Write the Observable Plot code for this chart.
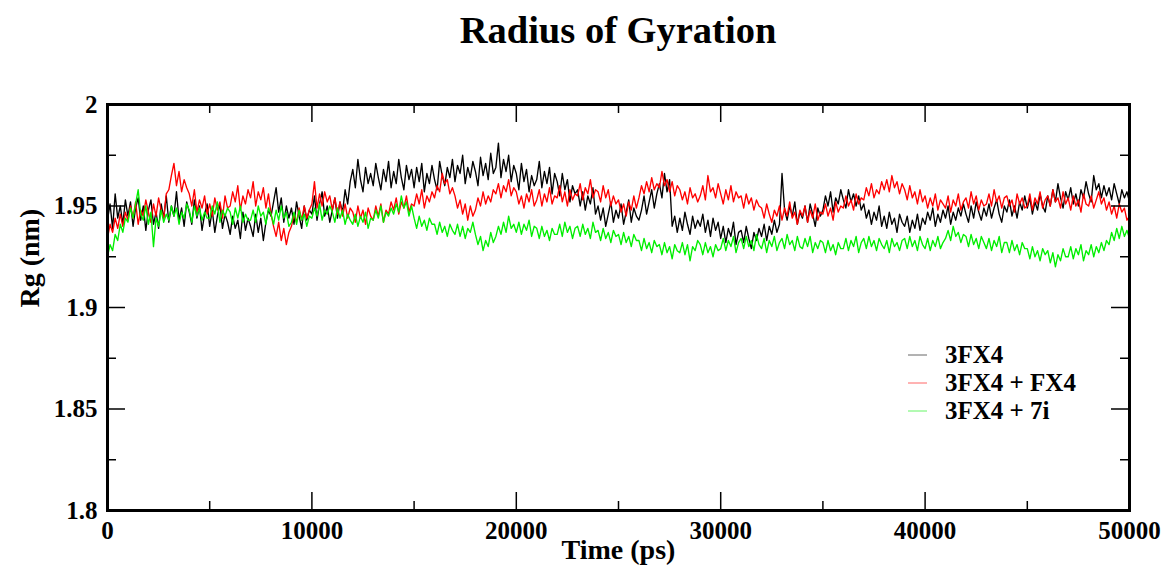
<!DOCTYPE html>
<html>
<head>
<meta charset="utf-8">
<script src="https://cdn.jsdelivr.net/npm/d3@7"></script>
<script src="https://cdn.jsdelivr.net/npm/@observablehq/plot@0.6"></script>
<style>
  html, body { margin: 0; padding: 0; background: white; }
  #wrap { position: relative; width: 1165px; height: 577px; font-family: "Liberation Serif", "Times New Roman", serif; font-weight: bold; color: black; }
  #title { position: absolute; left: 107px; width: 1022px; top: 11px; text-align: center; font-size: 38.5px; line-height: 38px; }
  #chart { position: absolute; left: 0; top: 70px; }
  #legend { position: absolute; left: 908px; top: 341px; font-size: 25px; }
  .row { display: flex; align-items: center; height: 28px; line-height: 28px; white-space: nowrap; }
  .row svg { margin-right: 18px; display: block; }
</style>
</head>
<body>
<div id="wrap">
  <div id="title"></div>
  <div id="chart"></div>
  <div id="legend"></div>
</div>
<script>
// ---- data (Rg in nm, sampled every 125 ps from 0 to 50000 ps; one row = 1000 ps) ----
const titleText = "Radius of Gyration";
const xLabel = "Time (ps)";
const yLabel = "Rg (nm)";
const timeStep = 125;
const seriesNames = ["3FX4", "3FX4 + FX4", "3FX4 + 7i"];
const seriesColors = ["#000000", "#ff0000", "#00ee00"];

const rg3FX4 = [
  1.943, 1.951, 1.939, 1.956, 1.944, 1.950, 1.941, 1.953,
  1.945, 1.952, 1.940, 1.949, 1.954, 1.943, 1.950, 1.938,
  1.948, 1.953, 1.941, 1.947, 1.939, 1.951, 1.944, 1.955,
  1.942, 1.950, 1.945, 1.957, 1.943, 1.949, 1.940, 1.952,
  1.947, 1.941, 1.953, 1.944, 1.950, 1.938, 1.946, 1.951,
  1.940, 1.948, 1.937, 1.945, 1.951, 1.939, 1.946, 1.942,
  1.936, 1.945, 1.939, 1.943, 1.934, 1.947, 1.938, 1.944,
  1.940, 1.935, 1.946, 1.937, 1.944, 1.933, 1.942, 1.948,
  1.945, 1.952, 1.959, 1.947, 1.954, 1.942, 1.950, 1.944,
  1.949, 1.941, 1.952, 1.945, 1.939, 1.950, 1.943, 1.948,
  1.946, 1.955, 1.943, 1.951, 1.957, 1.945, 1.950, 1.942,
  1.948, 1.954, 1.944, 1.952, 1.947, 1.958, 1.951, 1.962,
  1.968, 1.959, 1.973, 1.963, 1.957, 1.969, 1.961, 1.966,
  1.960, 1.971, 1.964, 1.958, 1.968, 1.962, 1.972, 1.959,
  1.967, 1.961, 1.973, 1.964, 1.958, 1.970, 1.963, 1.968,
  1.959, 1.969, 1.962, 1.971, 1.957, 1.966, 1.961, 1.970,
  1.963, 1.958, 1.972, 1.965, 1.960, 1.969, 1.964, 1.973,
  1.962, 1.970, 1.966, 1.975, 1.961, 1.969, 1.964, 1.972,
  1.967, 1.960, 1.974, 1.965, 1.971, 1.963, 1.976, 1.966,
  1.969, 1.981, 1.964, 1.973, 1.967, 1.975, 1.962, 1.970,
  1.966, 1.958, 1.971, 1.962, 1.968, 1.957, 1.965, 1.960,
  1.963, 1.972, 1.959, 1.967, 1.961, 1.969, 1.956, 1.966,
  1.962, 1.955, 1.966, 1.958, 1.963, 1.952, 1.960, 1.956,
  1.958, 1.950, 1.957, 1.948, 1.955, 1.951, 1.959, 1.946,
  1.950, 1.943, 1.949, 1.940, 1.946, 1.952, 1.942, 1.948,
  1.944, 1.951, 1.941, 1.947, 1.953, 1.942, 1.949, 1.945,
  1.943, 1.948, 1.955, 1.946, 1.952, 1.958, 1.949, 1.956,
  1.961, 1.954, 1.966, 1.957, 1.963, 1.940, 1.945, 1.937,
  1.944, 1.938, 1.947, 1.941, 1.936, 1.945, 1.939, 1.943,
  1.940, 1.946, 1.937, 1.943, 1.935, 1.944, 1.938, 1.942,
  1.934, 1.940, 1.932, 1.939, 1.935, 1.942, 1.931, 1.937,
  1.938, 1.932, 1.940, 1.934, 1.929, 1.937, 1.933, 1.939,
  1.935, 1.941, 1.933, 1.940, 1.936, 1.943, 1.937, 1.941,
  1.966, 1.948, 1.943, 1.950, 1.945, 1.952, 1.941, 1.947,
  1.944, 1.950, 1.942, 1.951, 1.946, 1.940, 1.949, 1.945,
  1.948, 1.955, 1.950, 1.957, 1.947, 1.954, 1.951, 1.958,
  1.953, 1.949, 1.958, 1.952, 1.956, 1.950, 1.955, 1.948,
  1.951, 1.944, 1.948, 1.941, 1.947, 1.943, 1.950, 1.940,
  1.945, 1.939, 1.947, 1.941, 1.944, 1.937, 1.946, 1.942,
  1.940, 1.945, 1.937, 1.943, 1.939, 1.946, 1.938, 1.944,
  1.941, 1.947, 1.943, 1.949, 1.940, 1.946, 1.942, 1.948,
  1.944, 1.950, 1.941, 1.947, 1.943, 1.949, 1.945, 1.951,
  1.946, 1.942, 1.950, 1.944, 1.952, 1.947, 1.943, 1.949,
  1.945, 1.951, 1.944, 1.949, 1.953, 1.946, 1.942, 1.950,
  1.947, 1.953, 1.945, 1.950, 1.944, 1.952, 1.948, 1.955,
  1.949, 1.954, 1.946, 1.952, 1.948, 1.956, 1.950, 1.947,
  1.955, 1.950, 1.958, 1.952, 1.961, 1.954, 1.949, 1.957,
  1.953, 1.959, 1.951, 1.956, 1.950, 1.958, 1.954, 1.962,
  1.956, 1.952, 1.965, 1.958, 1.961, 1.954, 1.960, 1.955,
  1.959, 1.953, 1.961, 1.956, 1.951, 1.958, 1.954, 1.957,
  1.952
];

const rg3FX4_FX4 = [
  1.934, 1.941, 1.937, 1.944, 1.939, 1.946, 1.940, 1.947,
  1.943, 1.950, 1.944, 1.952, 1.941, 1.948, 1.945, 1.953,
  1.947, 1.942, 1.951, 1.945, 1.954, 1.948, 1.944, 1.956,
  1.958, 1.965, 1.971, 1.960, 1.967, 1.957, 1.963, 1.959,
  1.956, 1.950, 1.958, 1.947, 1.953, 1.949, 1.955, 1.946,
  1.951, 1.945, 1.954, 1.948, 1.952, 1.944, 1.955, 1.949,
  1.950, 1.957, 1.952, 1.960, 1.948, 1.955, 1.951, 1.958,
  1.954, 1.962, 1.950, 1.957, 1.953, 1.959, 1.949, 1.956,
  1.946, 1.940, 1.935, 1.942, 1.933, 1.939, 1.931, 1.937,
  1.940, 1.946, 1.942, 1.949, 1.943, 1.950, 1.944, 1.948,
  1.951, 1.962, 1.949, 1.956, 1.950, 1.957, 1.952, 1.955,
  1.948, 1.954, 1.946, 1.952, 1.945, 1.951, 1.944, 1.949,
  1.947, 1.942, 1.950, 1.944, 1.948, 1.941, 1.949, 1.945,
  1.943, 1.950, 1.945, 1.951, 1.942, 1.948, 1.946, 1.952,
  1.948, 1.954, 1.946, 1.952, 1.949, 1.955, 1.947, 1.951,
  1.950, 1.956, 1.951, 1.958, 1.949, 1.955, 1.952, 1.957,
  1.954, 1.960, 1.957, 1.966, 1.961, 1.963, 1.956, 1.959,
  1.955, 1.949, 1.953, 1.946, 1.951, 1.943, 1.950, 1.945,
  1.948, 1.954, 1.950, 1.957, 1.951, 1.955, 1.952, 1.958,
  1.956, 1.961, 1.954, 1.960, 1.957, 1.963, 1.955, 1.959,
  1.957, 1.951, 1.955, 1.949, 1.956, 1.952, 1.958, 1.950,
  1.953, 1.958, 1.950, 1.956, 1.952, 1.959, 1.951, 1.955,
  1.954, 1.960, 1.952, 1.957, 1.950, 1.958, 1.953, 1.956,
  1.955, 1.961, 1.953, 1.959, 1.956, 1.963, 1.954, 1.958,
  1.957, 1.952, 1.960, 1.954, 1.958, 1.950, 1.955, 1.951,
  1.953, 1.947, 1.951, 1.945, 1.952, 1.948, 1.955, 1.949,
  1.954, 1.960, 1.956, 1.962, 1.957, 1.964, 1.958, 1.961,
  1.959, 1.967, 1.960, 1.963, 1.957, 1.962, 1.955, 1.960,
  1.958, 1.953, 1.957, 1.951, 1.959, 1.954, 1.956, 1.952,
  1.955, 1.960, 1.953, 1.965, 1.957, 1.959, 1.954, 1.961,
  1.956, 1.951, 1.958, 1.953, 1.960, 1.952, 1.957, 1.954,
  1.955, 1.949, 1.956, 1.951, 1.954, 1.948, 1.953, 1.950,
  1.949, 1.944, 1.951, 1.946, 1.942, 1.948, 1.945, 1.950,
  1.943, 1.949, 1.945, 1.952, 1.944, 1.947, 1.941, 1.948,
  1.945, 1.950, 1.942, 1.948, 1.944, 1.951, 1.943, 1.947,
  1.946, 1.951, 1.945, 1.949, 1.943, 1.952, 1.947, 1.950,
  1.949, 1.955, 1.950, 1.953, 1.948, 1.956, 1.951, 1.954,
  1.953, 1.959, 1.955, 1.961, 1.954, 1.958, 1.956, 1.962,
  1.958, 1.963, 1.957, 1.965, 1.959, 1.962, 1.956, 1.961,
  1.958, 1.953, 1.960, 1.954, 1.957, 1.951, 1.958, 1.952,
  1.955, 1.949, 1.954, 1.950, 1.956, 1.948, 1.953, 1.951,
  1.949, 1.955, 1.947, 1.953, 1.950, 1.956, 1.948, 1.952,
  1.954, 1.949, 1.957, 1.951, 1.955, 1.948, 1.953, 1.950,
  1.951, 1.956, 1.950, 1.958, 1.952, 1.955, 1.949, 1.954,
  1.955, 1.950, 1.953, 1.947, 1.956, 1.951, 1.954, 1.949,
  1.950, 1.956, 1.948, 1.954, 1.951, 1.957, 1.949, 1.953,
  1.955, 1.950, 1.958, 1.952, 1.954, 1.949, 1.957, 1.951,
  1.954, 1.948, 1.955, 1.950, 1.953, 1.947, 1.956, 1.951,
  1.950, 1.955, 1.949, 1.953, 1.957, 1.951, 1.954, 1.948,
  1.952, 1.946, 1.950, 1.944, 1.951, 1.947, 1.949, 1.943,
  1.945
];

const rg3FX4_7i = [
  1.925, 1.931, 1.928, 1.936, 1.933, 1.941, 1.937, 1.944,
  1.942, 1.949, 1.944, 1.951, 1.958, 1.946, 1.943, 1.950,
  1.941, 1.947, 1.930, 1.944, 1.940, 1.948, 1.942, 1.946,
  1.943, 1.950, 1.945, 1.949, 1.941, 1.947, 1.944, 1.951,
  1.948, 1.942, 1.950, 1.945, 1.949, 1.943, 1.947, 1.944,
  1.944, 1.950, 1.946, 1.952, 1.942, 1.948, 1.945, 1.949,
  1.947, 1.941, 1.949, 1.944, 1.950, 1.942, 1.946, 1.943,
  1.943, 1.948, 1.942, 1.950, 1.945, 1.947, 1.941, 1.949,
  1.946, 1.941, 1.948, 1.943, 1.950, 1.944, 1.947, 1.940,
  1.942, 1.947, 1.941, 1.948, 1.943, 1.946, 1.940, 1.945,
  1.944, 1.949, 1.945, 1.951, 1.943, 1.948, 1.946, 1.950,
  1.947, 1.942, 1.949, 1.944, 1.948, 1.941, 1.946, 1.943,
  1.941, 1.946, 1.940, 1.945, 1.942, 1.947, 1.939, 1.944,
  1.943, 1.948, 1.944, 1.950, 1.942, 1.947, 1.945, 1.949,
  1.946, 1.951, 1.947, 1.955, 1.949, 1.952, 1.945, 1.950,
  1.944, 1.939, 1.945, 1.940, 1.943, 1.938, 1.944, 1.941,
  1.941, 1.936, 1.942, 1.937, 1.940, 1.935, 1.941, 1.938,
  1.936, 1.941, 1.935, 1.940, 1.934, 1.939, 1.937, 1.942,
  1.936, 1.931, 1.935, 1.928, 1.933, 1.930, 1.937, 1.932,
  1.935, 1.940, 1.936, 1.942, 1.937, 1.945, 1.939, 1.941,
  1.937, 1.942, 1.936, 1.941, 1.938, 1.943, 1.935, 1.940,
  1.939, 1.934, 1.940, 1.935, 1.938, 1.933, 1.939, 1.936,
  1.936, 1.941, 1.935, 1.942, 1.937, 1.940, 1.934, 1.939,
  1.940, 1.935, 1.941, 1.936, 1.939, 1.934, 1.942, 1.937,
  1.938, 1.933, 1.939, 1.934, 1.937, 1.932, 1.938, 1.935,
  1.936, 1.931, 1.937, 1.932, 1.935, 1.930, 1.936, 1.933,
  1.933, 1.928, 1.934, 1.929, 1.932, 1.927, 1.933, 1.930,
  1.931, 1.926, 1.932, 1.927, 1.930, 1.924, 1.931, 1.928,
  1.927, 1.932, 1.926, 1.931, 1.923, 1.930, 1.928, 1.933,
  1.931, 1.926, 1.932, 1.927, 1.930, 1.925, 1.931, 1.928,
  1.929, 1.934, 1.928, 1.933, 1.930, 1.935, 1.927, 1.932,
  1.934, 1.929, 1.935, 1.930, 1.933, 1.928, 1.936, 1.931,
  1.929, 1.934, 1.927, 1.933, 1.930, 1.935, 1.928, 1.932,
  1.934, 1.929, 1.936, 1.931, 1.933, 1.928, 1.935, 1.930,
  1.929, 1.934, 1.930, 1.935, 1.927, 1.932, 1.929, 1.933,
  1.932, 1.927, 1.933, 1.928, 1.931, 1.926, 1.932, 1.929,
  1.929, 1.934, 1.928, 1.933, 1.930, 1.935, 1.927, 1.932,
  1.934, 1.929, 1.935, 1.930, 1.933, 1.928, 1.934, 1.931,
  1.929, 1.933, 1.927, 1.934, 1.930, 1.932, 1.928, 1.933,
  1.934, 1.929, 1.935, 1.930, 1.933, 1.928, 1.935, 1.931,
  1.929, 1.934, 1.928, 1.933, 1.930, 1.935, 1.929, 1.932,
  1.934, 1.938, 1.933, 1.940, 1.935, 1.937, 1.932, 1.936,
  1.935, 1.930, 1.936, 1.931, 1.934, 1.929, 1.935, 1.932,
  1.929, 1.934, 1.928, 1.933, 1.930, 1.935, 1.927, 1.932,
  1.932, 1.927, 1.933, 1.928, 1.931, 1.926, 1.932, 1.929,
  1.929, 1.924, 1.930, 1.925, 1.928, 1.923, 1.929, 1.926,
  1.928, 1.922, 1.927, 1.920, 1.926, 1.923, 1.929, 1.925,
  1.925, 1.930, 1.924, 1.929, 1.926, 1.931, 1.923, 1.928,
  1.926, 1.931, 1.925, 1.930, 1.927, 1.932, 1.928, 1.933,
  1.931, 1.937, 1.933, 1.939, 1.934, 1.940, 1.935, 1.938,
  1.934
];

const xTicks = [0, 10000, 20000, 30000, 40000, 50000];
const xTickLabels = ["0", "10000", "20000", "30000", "40000", "50000"];
const xMinorTicks = [5000, 15000, 25000, 35000, 45000];
const yTicks = [1.8, 1.85, 1.9, 1.95, 2.0];
const yTickLabels = ["1.8", "1.85", "1.9", "1.95", "2"];
const yMinorTicks = [1.825, 1.875, 1.925, 1.975];

// ---- build table ----
const allSeries = [rg3FX4, rg3FX4_FX4, rg3FX4_7i];
const table = allSeries.flatMap((vals, k) =>
  vals.map((v, i) => ({ time: i * timeStep, rg: v, name: seriesNames[k] }))
);

const W = 1165, H = 507;
const mT = 34, mR = 36, mB = 67, mL = 107;
const plotH = H - mT - mB, plotW = W - mL - mR;
const majorLen = 18, minorLen = 9;

const chart = Plot.plot({
  width: W, height: H,
  marginTop: mT, marginRight: mR, marginBottom: mB, marginLeft: mL,
  style: { fontFamily: "'Liberation Serif', 'Times New Roman', serif", fontWeight: "bold", fontSize: "25px", color: "black", background: "white", overflow: "visible" },
  x: { domain: [0, 50000] },
  y: { domain: [1.8, 2.0] },
  marks: [
    ...seriesNames.map((nm, k) =>
      Plot.line(table.filter(d => d.name === nm), { x: "time", y: "rg", stroke: seriesColors[k], strokeWidth: 1.35 })
    ),
    // inward ticks: bottom / top
    Plot.ruleX(xTicks, { insetTop: plotH - majorLen, strokeWidth: 1.5 }),
    Plot.ruleX(xTicks, { insetBottom: plotH - majorLen, strokeWidth: 1.5 }),
    Plot.ruleX(xMinorTicks, { insetTop: plotH - minorLen, strokeWidth: 1.5 }),
    Plot.ruleX(xMinorTicks, { insetBottom: plotH - minorLen, strokeWidth: 1.5 }),
    // inward ticks: left / right
    Plot.ruleY(yTicks, { insetRight: plotW - majorLen, strokeWidth: 1.5 }),
    Plot.ruleY(yTicks, { insetLeft: plotW - majorLen, strokeWidth: 1.5 }),
    Plot.ruleY(yMinorTicks, { insetRight: plotW - minorLen, strokeWidth: 1.5 }),
    Plot.ruleY(yMinorTicks, { insetLeft: plotW - minorLen, strokeWidth: 1.5 }),
    Plot.frame({ stroke: "black", strokeWidth: 3 }),
    Plot.axisX(xTicks, { tickSize: 0, tickPadding: 11, tickFormat: d => xTickLabels[xTicks.indexOf(d)], label: null, fontSize: 25 }),
    Plot.axisY(yTicks, { tickSize: 0, tickPadding: 10, tickFormat: d => yTickLabels[yTicks.indexOf(d)], label: null, fontSize: 25 }),
    Plot.text([xLabel], { text: d => d, frameAnchor: "bottom", dy: 48, fontSize: 28, fontWeight: "bold" }),
    Plot.text([yLabel], { text: d => d, frameAnchor: "left", dx: -77, rotate: -90, fontSize: 28, fontWeight: "bold" })
  ]
});
document.getElementById("chart").appendChild(chart);
document.getElementById("title").textContent = titleText;

const legend = document.getElementById("legend");
const svgNS = "http://www.w3.org/2000/svg";
seriesNames.forEach((nm, k) => {
  const row = document.createElement("div");
  row.className = "row";
  const sw = document.createElementNS(svgNS, "svg");
  sw.setAttribute("width", "19");
  sw.setAttribute("height", "4");
  const ln = document.createElementNS(svgNS, "line");
  ln.setAttribute("x1", "0"); ln.setAttribute("x2", "19");
  ln.setAttribute("y1", "2"); ln.setAttribute("y2", "2");
  ln.setAttribute("stroke", seriesColors[k]);
  ln.setAttribute("stroke-width", "1");
  ln.setAttribute("stroke-opacity", "0.6");
  sw.appendChild(ln);
  const lab = document.createElement("span");
  lab.textContent = nm;
  row.appendChild(sw);
  row.appendChild(lab);
  legend.appendChild(row);
});
</script>
</body>
</html>
